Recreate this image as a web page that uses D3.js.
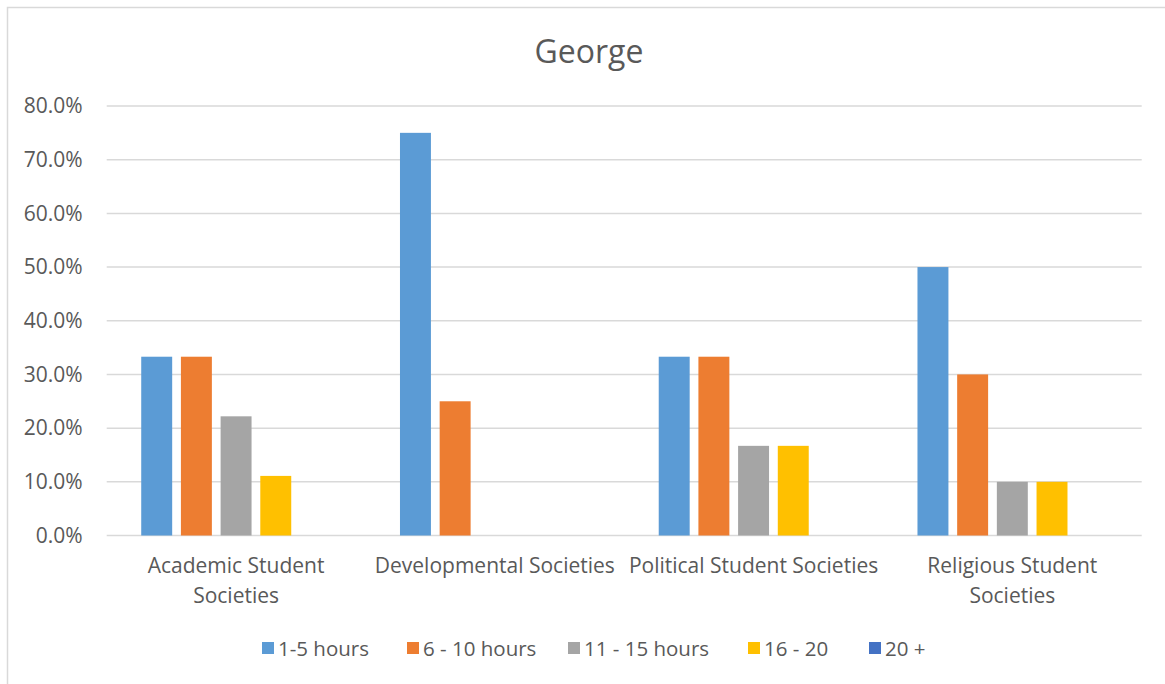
<!DOCTYPE html>
<html><head><meta charset="utf-8">
<script src="https://cdn.jsdelivr.net/npm/d3@7"></script>
<style>body{margin:0;background:#fff;} text{font-family:"Open Sans",Lato,sans-serif;fill:#595959;}</style>
</head><body>
<svg id="c" width="1165" height="684"></svg>
<script>
const title = "George";
const categories = ["Academic Student Societies","Developmental Societies","Political Student Societies","Religious Student Societies"];
const seriesNames = ["1-5 hours","6 - 10 hours","11 - 15 hours","16 - 20","20 +"];
const seriesColors = ["#5B9BD5","#ED7D31","#A5A5A5","#FFC000","#4472C4"];
const s1to5   = [0.333, 0.75, 0.333, 0.50];
const s6to10  = [0.333, 0.25, 0.333, 0.30];
const s11to15 = [0.222, 0,    0.167, 0.10];
const s16to20 = [0.111, 0,    0.167, 0.10];
const s20plus = [0,     0,    0,     0];
const yTicks = [0,0.1,0.2,0.3,0.4,0.5,0.6,0.7,0.8];
const seriesValues = [s1to5, s6to10, s11to15, s16to20, s20plus];

const FONT = "'Open Sans',Lato,sans-serif";
const svg = d3.select("#c");
svg.append("rect").attr("x",7.5).attr("y",7.5).attr("width",1164).attr("height",690)
  .attr("fill","#fff").attr("stroke","#D9D9D9").attr("stroke-width",1.5);

const L=106.7, R=1141.7, T=106, B=535.5;
const x = d3.scaleBand().domain(categories).range([L,R]).padding(0);
const xi = d3.scaleBand().domain(seriesNames).range([0,x.bandwidth()]).paddingInner(0.22).paddingOuter(0.87);
const y = d3.scaleLinear().domain([0,0.8]).range([B,T]);

svg.append("text").attr("x",589).attr("y",63).attr("text-anchor","middle")
  .attr("font-size",32).text(title);

const grid = svg.append("g");
grid.selectAll("line").data(yTicks).join("line")
  .attr("x1",L).attr("x2",R).attr("y1",d=>y(d)).attr("y2",d=>y(d))
  .attr("stroke","#D9D9D9").attr("stroke-width",1.5);

const yAxis = d3.axisLeft(y).tickValues(yTicks).tickFormat(d3.format(".1%")).tickSize(0).tickPadding(24);
const ya = svg.append("g").attr("transform",`translate(${L},0)`).call(yAxis);
ya.select(".domain").remove();
ya.selectAll("text").attr("font-size",21).style("font-family",FONT).attr("fill","#595959");

const rows = [];
categories.forEach((c,ci)=>seriesNames.forEach((s,si)=>rows.push({c,s,si,v:seriesValues[si][ci]})));
svg.append("g").selectAll("rect").data(rows.filter(d=>d.v>0)).join("rect")
  .attr("x",d=>x(d.c)+xi(d.s)).attr("width",xi.bandwidth())
  .attr("y",d=>y(d.v)).attr("height",d=>B-y(d.v))
  .attr("fill",d=>seriesColors[d.si]);

// x-axis labels with wrapping
const xa = svg.append("g");
const XFS = 21;
categories.forEach(c=>{
  const cx = x(c)+x.bandwidth()/2;
  const t = xa.append("text").attr("x",cx).attr("y",573).attr("text-anchor","middle").attr("font-size",XFS);
  const words = c.split(" ");
  let line=[], lines=[];
  const probe = xa.append("text").attr("font-size",XFS);
  words.forEach(w=>{
    const trial=[...line,w].join(" ");
    probe.text(trial);
    if(probe.node().getComputedTextLength()>x.bandwidth()-4 && line.length){lines.push(line.join(" "));line=[w];}
    else line.push(w);
  });
  lines.push(line.join(" "));
  probe.remove();
  lines.forEach((ln,i)=>t.append("tspan").attr("x",cx).attr("dy",i?30:0).text(ln));
});

// legend
const legendX = [262,407,568,748,869];
const lg = svg.append("g");
seriesNames.forEach((s,i)=>{
  lg.append("rect").attr("x",legendX[i]).attr("y",642).attr("width",12).attr("height",12).attr("fill",seriesColors[i]);
  lg.append("text").attr("x",legendX[i]+16).attr("y",656).attr("font-size",20.5).text(s);
});
</script>
</body></html>
